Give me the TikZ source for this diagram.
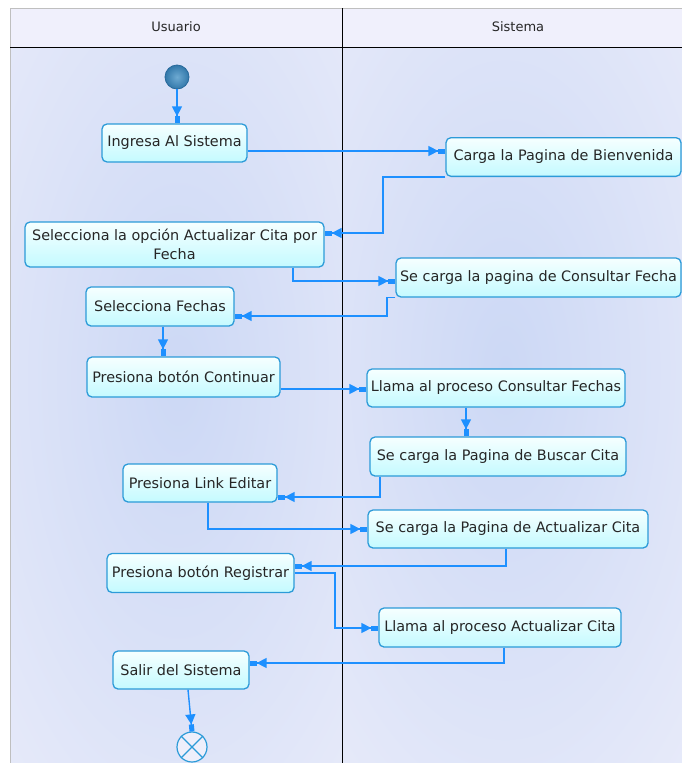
\documentclass[tikz,border=0pt]{standalone}
\usepackage{fontspec}
\setmainfont{DejaVu Sans}
\usetikzlibrary{arrows.meta,calc}
\definecolor{lnblue}{RGB}{30,144,255}
\definecolor{bxborder}{RGB}{44,155,216}
\definecolor{bxtop}{RGB}{246,255,255}
\definecolor{bxbot}{RGB}{196,250,255}
\definecolor{lanebg}{RGB}{238,239,251}
\definecolor{blob}{RGB}{204,216,245}
\definecolor{hdrbg}{RGB}{240,240,252}
\definecolor{startA}{RGB}{110,170,210}
\definecolor{startB}{RGB}{50,120,170}
\definecolor{startC}{RGB}{40,105,155}
\begin{document}
\begin{tikzpicture}[x=1pt,y=-1pt,
 act/.style={draw=bxborder, line width=1.3pt, rounded corners=5pt, top color=bxtop, bottom color=bxbot,
   font=\fontsize{14.4}{19}\selectfont, inner sep=0pt, align=center, text=black!85},
 lanehdr/.style={font=\fontsize{13}{16}\selectfont, text=black!85},
 wire/.style={draw=lnblue, line width=1.4pt},
 flow/.style={wire,
   -{Triangle[length=10pt,width=10pt] Rectangle[length=7pt,width=5pt]}},
]
\useasboundingbox (0,0) rectangle (682,763);
\fill[white] (0,0) rectangle (682,763);
\fill[lanebg] (10,8) rectangle (682,763);
\begin{scope}
\clip (10,47) rectangle (342,763);
\shade[inner color=blob, outer color=lanebg] (178,380) ellipse (330 and 700);
\end{scope}
\begin{scope}
\clip (342,47) rectangle (682,763);
\shade[inner color=blob, outer color=lanebg] (505,370) ellipse (340 and 680);
\end{scope}
\fill[hdrbg] (10,8) rectangle (682,47);
\draw[black!25, line width=0.6pt] (10,8) rectangle (682,763);
\draw[black, line width=1pt] (10,47) -- (682,47);
\draw[black, line width=1pt] (342,8) -- (342,763);
\node[lanehdr] (hU) at (176,27) {Usuario};
\node[lanehdr] (hS) at (518,27) {Sistema};

% nodes
\node[circle, draw=startC, line width=0.8pt, inner color=startA, outer color=startB, minimum size=24pt, inner sep=0pt] (start) at (177,77) {};
\node[act, minimum width=145pt, minimum height=38pt] (ingresa) at (174.5,143) {Ingresa Al Sistema};
\node[act, minimum width=235pt, minimum height=38.7pt] (bienv) at (563.5,157) {Carga la Pagina de Bienvenida};
\node[act, minimum width=299pt, minimum height=45pt] (selop) at (174.5,244.5) {Selecciona la opción Actualizar Cita por\\Fecha};
\node[act, minimum width=285pt, minimum height=39pt] (consf) at (538.5,277.5) {Se carga la pagina de Consultar Fecha};
\node[act, minimum width=148pt, minimum height=39pt] (self) at (160,306.5) {Selecciona Fechas};
\node[act, minimum width=193pt, minimum height=40pt] (contin) at (183.5,377) {Presiona botón Continuar};
\node[act, minimum width=258pt, minimum height=38pt] (llamac) at (496,388) {Llama al proceso Consultar Fechas};
\node[act, minimum width=256pt, minimum height=39pt] (buscar) at (498,456.5) {Se carga la Pagina de Buscar Cita};
\node[act, minimum width=154pt, minimum height=38pt] (editar) at (200,483) {Presiona Link Editar};
\node[act, minimum width=280pt, minimum height=38pt] (actpag) at (508,529) {Se carga la Pagina de Actualizar Cita};
\node[act, minimum width=187pt, minimum height=39pt] (regis) at (200.5,573) {Presiona botón Registrar};
\node[act, minimum width=242pt, minimum height=39pt] (llamaa) at (500,627.5) {Llama al proceso Actualizar Cita};
\node[act, minimum width=136pt, minimum height=38pt] (salir) at (181,670) {Salir del Sistema};
\node[circle, draw=bxborder, line width=1.2pt, fill=lanebg, minimum size=30pt, inner sep=0pt] (fin) at (192,747) {};
\draw[bxborder, line width=1.2pt] (fin.north west) -- (fin.south east) (fin.north east) -- (fin.south west);

% helper corner points
\coordinate (c1) at ($(bienv.south west)+(-62.35,0)$);
\coordinate (c2) at ($(consf.south west)+(-8.35,0)$);
\coordinate (c3) at ($(regis.east)+(40.35,0)$);

% connectors
\draw[flow] (start.south) -- (start.south |- ingresa.north);
\draw[flow] ($(ingresa.east)+(0,8)$) -- ($(bienv.west)+(0,-6)$);
\draw[flow] (bienv.south west) -- (c1) |- ($(selop.east)+(0,-11.5)$);
\draw[flow] ($(selop.south)+(118.5,0)$) |- ($(consf.west)+(0,3.5)$);
\draw[flow] (consf.south west) -- (c2) |- ($(self.east)+(0,9.5)$);
\draw[flow] ($(self.south)+(3,0)$) -- ($(contin.north)+(-20.5,0)$);
\draw[flow] ($(contin.east)+(0,12)$) -- ($(llamac.west)+(0,1)$);
\draw[flow] ($(llamac.south)+(-30,0)$) -- ($(buscar.north)+(-32,0)$);
\draw[flow] ($(buscar.south)+(-118,0)$) |- ($(editar.east)+(0,14)$);
\draw[flow] ($(editar.south)+(8,0)$) |- (actpag.west);
\draw[flow] ($(actpag.south)+(-2,0)$) |- ($(regis.east)+(0,-7)$);
\draw[flow] (regis.east) -- (c3) |- ($(llamaa.west)+(0,0.5)$);
\draw[flow] ($(llamaa.south)+(4,0)$) |- ($(salir.east)+(0,-7)$);
\draw[flow] ($(salir.south)+(7,0)$) -- (fin.north);
\end{tikzpicture}
\end{document}
